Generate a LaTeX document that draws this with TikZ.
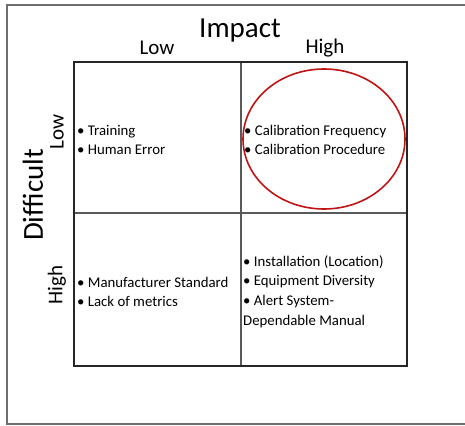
\documentclass[tikz,border=0pt]{standalone}
\usepackage{fontspec}
\setmainfont{Carlito}
\definecolor{framegray}{RGB}{110,110,110}
\definecolor{circred}{RGB}{192,20,20}
\begin{document}
\begin{tikzpicture}[x=1pt,y=-1pt,
  itemtext/.style={anchor=west,align=left,inner sep=0pt,font=\fontsize{14.8}{19.8}\selectfont},
  axistitle/.style={inner sep=0pt,font=\fontsize{29}{32}\selectfont},
  axislabel/.style={inner sep=0pt,font=\fontsize{21}{24}\selectfont}]
\useasboundingbox (0,0) rectangle (465,425);
% outer frame
\draw[framegray,line width=1.8pt] (475,5) -- (7,5) -- (7,424) -- (475,424);
% grid
\coordinate (tl) at (74,62);
\coordinate (br) at (407,366);
\draw[black!65,line width=1.4pt] (241,62) -- (241,366);
\draw[black!65,line width=1.4pt] (74,213) -- (407,213);
\draw[black!85,line width=2.2pt] (tl) rectangle (br);
% titles
\node[axistitle] (impact) at (240,31) {Impact};
\node[axislabel] (lowtop) at (157,48) {Low};
\node[axislabel] (hightop) at (325,48) {High};
\node[axistitle,rotate=90] (difficult) at (33,195) {Difficult};
\node[axislabel,rotate=90] (lowleft) at (57,132) {Low};
\node[axislabel,rotate=90] (highleft) at (57,285) {High};
% quadrant texts
\node[itemtext] (q1) at (77,140) {\textbullet\ Training\\\textbullet\ Human Error};
\node[itemtext] (q2) at (244,140) {\textbullet\ Calibration Frequency\\\textbullet\ Calibration Procedure};
\node[itemtext] (q3) at (77,292) {\textbullet\ Manufacturer Standard\\\textbullet\ Lack of metrics};
\node[itemtext] (q4) at (243,291.5) {\textbullet\ Installation (Location)\\\textbullet\ Equipment Diversity\\\textbullet\ Alert System-\\Dependable Manual};
% highlight ellipse
\draw[circred,line width=1.6pt] (324,139) ellipse [x radius=81,y radius=70];
\end{tikzpicture}
\end{document}
